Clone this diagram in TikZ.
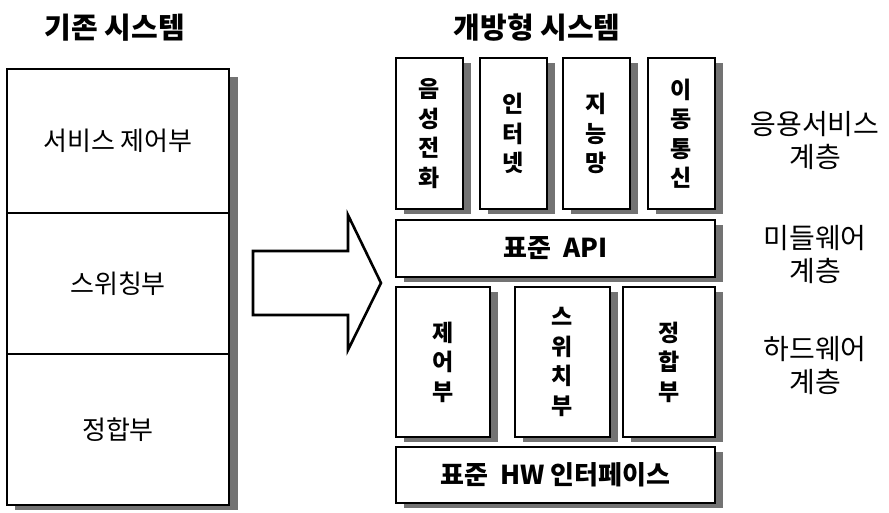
\documentclass[tikz,border=0pt]{standalone}
\usepackage{fontspec}
\setmainfont{Noto Sans CJK KR}
\usetikzlibrary{shadows}
\tikzset{
  blk/.style={draw=black, line width=2.6pt, fill=white, inner sep=0pt, anchor=center,
    drop shadow={shadow xshift=8pt, shadow yshift=-5pt, fill=black!55, opacity=1}},
  plain/.style={draw=black, line width=2.6pt, fill=white, inner sep=0pt, anchor=center},
  vtxt/.style={font=\fontsize{23}{29.5}\selectfont\bfseries, align=center},
  htxt/.style={font=\fontsize{26}{30}\selectfont},
  btxt/.style={font=\fontsize{26}{30}\selectfont\bfseries},
  ttl/.style={font=\fontsize{29}{32}\selectfont\bfseries},
  side/.style={font=\fontsize{28}{33}\selectfont, align=center},
}
\begin{document}
\begin{tikzpicture}[x=1pt,y=-1pt]
\useasboundingbox (0,0) rectangle (889,513);
% titles
\node[ttl] (t1) at (115,28) {기존 시스템};
\node[ttl] (t2) at (537,28) {개방형 시스템};
% left column
\fill[black!55] (15,77) rectangle (238,510);
\node[plain, minimum width=222pt, minimum height=144pt, htxt] (l1) at (118,141) {서비스 제어부};
\node[plain, minimum width=222pt, minimum height=141pt, htxt] (l2) at (118,283.5) {스위칭부};
\node[plain, minimum width=222pt, minimum height=151pt, htxt] (l3) at (118,429.5) {정합부};
% arrow
\draw[line width=2.6pt, line join=miter, fill=white] (253,251) -- (348,251) -- (348,215) -- (381,283) -- (348,350) -- (348,315) -- (253,315) -- cycle;
% application layer
\node[blk, minimum width=67pt, minimum height=151pt, vtxt] (a1) at (429.5,133.5) {음\\성\\전\\화};
\node[blk, minimum width=67pt, minimum height=151pt, vtxt] (a2) at (513.5,133.5) {인\\터\\넷};
\node[blk, minimum width=67pt, minimum height=151pt, vtxt] (a3) at (596.5,133.5) {지\\능\\망};
\node[blk, minimum width=67pt, minimum height=151pt, vtxt] (a4) at (681.5,133.5) {이\\동\\통\\신};
% API
\node[blk, minimum width=319pt, minimum height=57pt, btxt] (api) at (555.5,248.5) {표준\ \ API};
% hardware layer
\node[blk, minimum width=94pt, minimum height=150pt, vtxt] (h1) at (443,362) {제\\어\\부};
\node[blk, minimum width=95pt, minimum height=150pt, vtxt] (h2) at (562.5,362) {스\\위\\치\\부};
\node[blk, minimum width=92pt, minimum height=150pt, vtxt] (h3) at (669,362) {정\\합\\부};
% HW interface
\node[blk, minimum width=319pt, minimum height=56pt, btxt] (hw) at (555.5,475) {표준\ \ HW 인터페이스};
% side labels
\node[side] (s1) at (815,141) {응용서비스\\계층};
\node[side] (s2) at (815,255) {미들웨어\\계층};
\node[side] (s3) at (815,366) {하드웨어\\계층};
\end{tikzpicture}
\end{document}
